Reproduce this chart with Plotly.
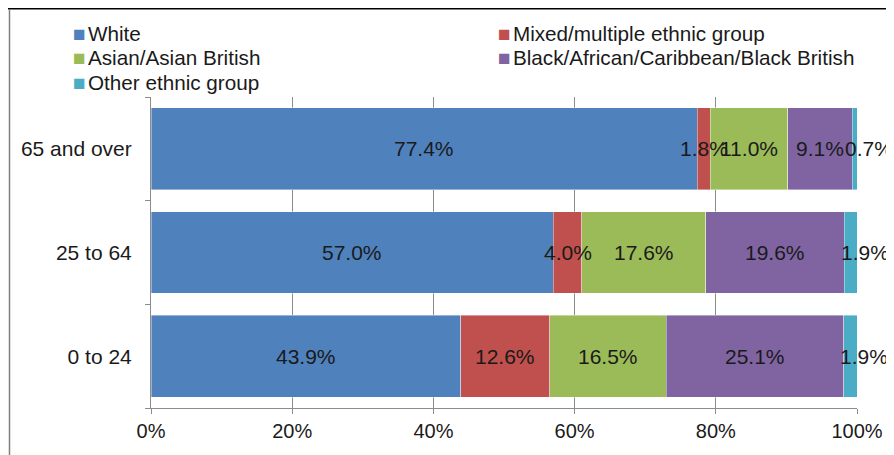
import plotly.graph_objects as go

categories = ["0 to 24", "25 to 64", "65 and over"]
series_names = ["White", "Mixed/multiple ethnic group", "Asian/Asian British",
                "Black/African/Caribbean/Black British", "Other ethnic group"]
white = [43.9, 57.0, 77.4]
mixed = [12.6, 4.0, 1.8]
asian = [16.5, 17.6, 11.0]
black = [25.1, 19.6, 9.1]
other = [1.9, 1.9, 0.7]
series_values = [white, mixed, asian, black, other]
colors = ["#4F81BD", "#C0504D", "#9BBB59", "#8064A2", "#4BACC6"]
x_ticks = [0, 20, 40, 60, 80, 100]
x_tick_labels = ["0%", "20%", "40%", "60%", "80%", "100%"]

# page offset of the figure div (default body margin)
OFF = 8
W, H = 894 - OFF, 455 - OFF
L, R, T, B = 151 - OFF, 857 - OFF, 97 - OFF, 408 - OFF
FONT = "Liberation Sans, Arial, sans-serif"
TXT = "#1a1a1a"

def px_to_paper_x(px):
    return (px - L) / (R - L)

def px_to_paper_y(py):
    return (B - py) / (B - T)

fig = go.Figure()
for name, vals, col in zip(series_names, series_values, colors):
    fig.add_trace(go.Bar(
        y=categories, x=vals, name=name, orientation="h",
        marker=dict(color=col, line=dict(color="rgba(255,255,255,0.5)", width=0.8)),
        textposition="none", hoverinfo="skip", showlegend=False,
    ))

annotations = []
# data labels (centred on each segment, computed from the data)
for s, (vals, name) in enumerate(zip(series_values, series_names)):
    for c, cat in enumerate(categories):
        left = sum(series_values[k][c] for k in range(s))
        annotations.append(dict(
            x=left + vals[c] / 2, y=cat, xref="x", yref="y",
            text=f"{vals[c]:.1f}%", showarrow=False,
            xshift=14 if s == len(series_values) - 1 else 0,
            font=dict(family=FONT, size=21, color=TXT),
        ))

# legend (two columns)
legend_cols_px = [71 - OFF, 496 - OFF]
legend_rows_px = [33 - OFF, 58 - OFF, 82 - OFF]
for i, (name, col) in enumerate(zip(series_names, colors)):
    r, cidx = divmod(i, 2)
    annotations.append(dict(
        x=px_to_paper_x(legend_cols_px[cidx]), y=px_to_paper_y(legend_rows_px[r]),
        xref="paper", yref="paper", xanchor="left", yanchor="middle",
        text=(f"<span style='color:{col};font-size:21px'>■</span>"
              f"<span style='font-size:8px'> </span>{name}"),
        showarrow=False, font=dict(family=FONT, size=20.7, color=TXT),
    ))

fig.update_layout(
    width=W, height=H,
    margin=dict(l=L, r=W - R, t=T, b=H - B, pad=0),
    barmode="stack", bargap=0.21,
    plot_bgcolor="white", paper_bgcolor="white",
    font=dict(family=FONT, size=20, color=TXT),
    showlegend=False,
    annotations=annotations,
    xaxis=dict(
        range=[0, 100], tickvals=x_ticks, ticktext=x_tick_labels,
        showgrid=True, gridcolor="#8c8c8c", gridwidth=1,
        showline=True, linecolor="#8c8c8c", linewidth=1,
        ticks="outside", ticklen=5, tickcolor="#8c8c8c",
        zeroline=False, fixedrange=True,
        tickfont=dict(family=FONT, size=20, color=TXT),
    ),
    yaxis=dict(
        type="category", categoryorder="array", categoryarray=categories,
        showline=True, linecolor="#8c8c8c", linewidth=1,
        ticks="outside", ticklen=5, tickcolor="#8c8c8c", tickson="boundaries",
        ticklabelstandoff=14, showgrid=False, fixedrange=True,
        tickfont=dict(family=FONT, size=21, color=TXT),
    ),
    shapes=[
        dict(type="line", xref="paper", yref="paper",
             x0=px_to_paper_x(0), x1=px_to_paper_x(W), y0=px_to_paper_y(0.5), y1=px_to_paper_y(0.5),
             line=dict(color="#000000", width=2)),
        dict(type="line", xref="paper", yref="paper",
             x0=px_to_paper_x(1.5), x1=px_to_paper_x(1.5), y0=px_to_paper_y(1), y1=px_to_paper_y(H),
             line=dict(color="#7f7f7f", width=1.5)),
    ],
)

fig.write_html("out.html")
